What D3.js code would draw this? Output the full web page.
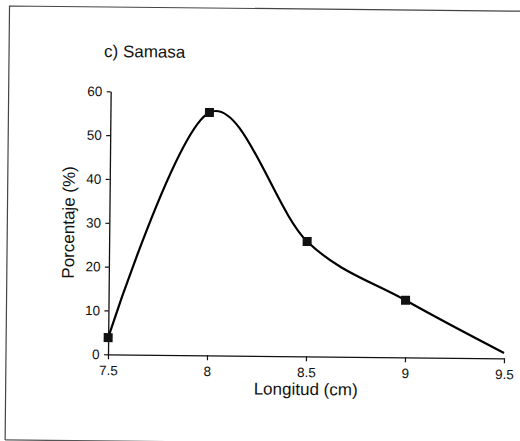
<!DOCTYPE html>
<html>
<head>
<meta charset="utf-8">
<script src="https://cdn.jsdelivr.net/npm/d3@7/dist/d3.min.js"></script>
<style>
  html, body { margin: 0; padding: 0; background: #fff; }
  svg { display: block; font-family: "Liberation Sans", Arial, sans-serif; }
</style>
</head>
<body>
<svg id="chart" width="520" height="441"></svg>
<script>
// Length classes (cm) and percentage of fish in each class
const lengths = [7.5, 8, 8.5, 9, 9.5];
const percents = [3.8, 55.4, 26.2, 13.0, 1.2];
const markedCount = 4;          // the last point closes the curve without a marker
const xTicks = [7.5, 8, 8.5, 9, 9.5];
const yTicks = [0, 10, 20, 30, 40, 50, 60];
const title = "c) Samasa";
const xTitle = "Longitud (cm)";
const yTitle = "Porcentaje (%)";

const svg = d3.select("#chart");
const x0 = 108, x1 = 504, y0 = 354.3, y1 = 91.3;

// whole sheet is set at a slight tilt
const g = svg.append("g").attr("transform", `rotate(0.58, ${x0}, ${y0})`);

const x = d3.scaleLinear().domain([7.5, 9.5]).range([x0, x1]);
const y = d3.scaleLinear().domain([0, 60]).range([y0, y1]);

// outer frame (left, top and part of the bottom edge)
g.append("path")
  .attr("d", `M6,441 L6,7 L530,7`)
  .attr("fill", "none").attr("stroke", "#444").attr("stroke-width", 1.2);
g.append("line").attr("x1", 6).attr("x2", 198).attr("y1", 441).attr("y2", 441)
  .attr("stroke", "#555").attr("stroke-width", 1.2);

// title
g.append("text").attr("x", 101).attr("y", 57)
  .attr("font-size", 17).attr("fill", "#111").text(title);

// axes
const xAxis = d3.axisBottom(x).tickValues(xTicks).tickSize(5).tickSizeOuter(0)
  .tickFormat(d => String(d));
const yAxis = d3.axisLeft(y).tickValues(yTicks).tickSize(4).tickSizeOuter(0)
  .tickFormat(d => String(d));

const gx = g.append("g").attr("transform", `translate(0,${y0})`).call(xAxis);
const gy = g.append("g").attr("transform", `translate(${x0},0)`).call(yAxis);
[gx, gy].forEach(a => {
  a.select(".domain").attr("stroke", "#111").attr("stroke-width", 1.3);
  a.selectAll(".tick line").attr("stroke", "#111").attr("stroke-width", 1.2);
  a.selectAll(".tick text").attr("font-size", 13.5).attr("fill", "#111")
    .attr("font-family", "'Liberation Sans', Arial, sans-serif");
});
gx.selectAll(".tick text").attr("dy", "0.95em");
gy.selectAll(".tick text").attr("dx", "-0.1em");

// axis titles
g.append("text").attr("x", (x0 + x1) / 2).attr("y", 393)
  .attr("text-anchor", "middle").attr("font-size", 17).attr("fill", "#111").text(xTitle);
g.append("text")
  .attr("transform", `translate(73, ${(y0 + y1) / 2}) rotate(-90)`)
  .attr("text-anchor", "middle").attr("font-size", 17).attr("fill", "#111").text(yTitle);

// smoothed series
const pts = lengths.map((l, i) => [l, percents[i]]);
const line = d3.line().x(d => x(d[0])).y(d => y(d[1])).curve(d3.curveCatmullRom.alpha(0));
g.append("path").datum(pts).attr("d", line)
  .attr("fill", "none").attr("stroke", "#000").attr("stroke-width", 2.2);

g.selectAll("rect.marker").data(pts.slice(0, markedCount)).join("rect")
  .attr("class", "marker")
  .attr("x", d => x(d[0]) - 4.5).attr("y", d => y(d[1]) - 4.5)
  .attr("width", 9).attr("height", 9).attr("fill", "#111");
</script>
</body>
</html>
